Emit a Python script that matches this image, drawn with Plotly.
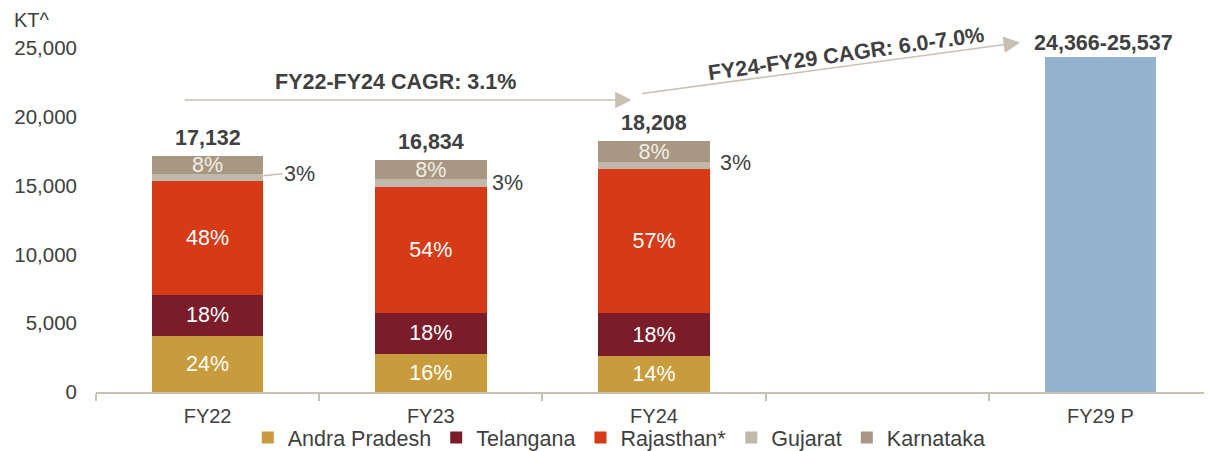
import plotly.graph_objects as go

# ---------------- data ----------------
categories = ["FY22", "FY23", "FY24"]
andra = [4100, 2740, 2620]
telangana = [2980, 3030, 3100]
rajasthan = [8220, 9160, 10470]
gujarat = [540, 530, 510]
karnataka = [1292, 1374, 1508]

andra_pct = ["24%", "16%", "14%"]
telangana_pct = ["18%", "18%", "18%"]
rajasthan_pct = ["48%", "54%", "57%"]
gujarat_pct = ["3%", "3%", "3%"]
karnataka_pct = ["8%", "8%", "8%"]

totals_label = ["17,132", "16,834", "18,208"]

proj_category = "FY29 P"
proj_value = 24366
proj_label = "24,366-25,537"

axis_labels = ["FY22", "FY23", "FY24", "", "FY29 P"]
cagr1_text = "FY22-FY24 CAGR: 3.1%"
cagr2_text = "FY24-FY29 CAGR: 6.0-7.0%"
unit_text = "KT^"

# ---------------- styling ----------------
FONT = "Liberation Sans, Arial, sans-serif"
TXT = "#404040"
AXIS = "#C8C0B0"
ARROW = "#C9C0B2"
LBL = 21.5
colors = {
    "Andra Pradesh": "#C89B3C",
    "Telangana": "#7A1C2A",
    "Rajasthan*": "#D63A16",
    "Gujarat": "#C0B8AA",
    "Karnataka": "#A89782",
}
PROJ_COLOR = "#94B2CE"

xpos = [axis_labels.index(c) for c in categories]
proj_x = axis_labels.index(proj_category)
BW = 0.5

fig = go.Figure()

series = [
    ("Andra Pradesh", andra, andra_pct, "white"),
    ("Telangana", telangana, telangana_pct, "white"),
    ("Rajasthan*", rajasthan, rajasthan_pct, "white"),
    ("Gujarat", gujarat, None, "white"),
    ("Karnataka", karnataka, karnataka_pct, "#F3EEE6"),
]
for name, vals, pct, tcol in series:
    fig.add_trace(go.Bar(
        x=xpos, y=vals, name=name, width=BW,
        marker=dict(color=colors[name], line=dict(width=0)),
        text=pct if pct else None,
        textposition="inside" if pct else "none",
        insidetextanchor="middle",
        textangle=0,
        textfont=dict(color=tcol, size=LBL, family=FONT),
        hoverinfo="skip",
    ))

fig.add_trace(go.Bar(
    x=[proj_x], y=[proj_value], width=BW, showlegend=False,
    marker=dict(color=PROJ_COLOR, line=dict(width=0)), hoverinfo="skip",
))

annotations = []
totals = [a + b + c + d + e for a, b, c, d, e in zip(andra, telangana, rajasthan, gujarat, karnataka)]
for x, t, lab in zip(xpos, totals, totals_label):
    annotations.append(dict(x=x, y=t, text=f"<b>{lab}</b>", showarrow=False,
                            yanchor="bottom", yshift=4,
                            font=dict(size=LBL, color=TXT, family=FONT)))
annotations.append(dict(x=proj_x, y=proj_value, text=f"<b>{proj_label}</b>", showarrow=False,
                        yanchor="bottom", yshift=0, xshift=3,
                        font=dict(size=LBL, color=TXT, family=FONT)))

# Gujarat outside labels
for i, (x, lab) in enumerate(zip(xpos, gujarat_pct)):
    mid = andra[i] + telangana[i] + rajasthan[i] + gujarat[i] / 2
    if i == 0:
        annotations.append(dict(x=x + BW / 2, y=mid, text=lab, showarrow=True,
                                arrowhead=0, arrowwidth=1.5, arrowcolor=AXIS,
                                ax=19, ay=-2, xanchor="left", yshift=2,
                                font=dict(size=LBL, color=TXT, family=FONT)))
    else:
        annotations.append(dict(x=x + BW / 2, y=mid, text=lab, showarrow=False,
                                xanchor="left", xshift=3 if i == 1 else 8,
                                yshift=0 if i == 1 else 3,
                                font=dict(size=LBL, color=TXT, family=FONT)))

# CAGR arrows
annotations.append(dict(x=1.90, y=21230, ax=-0.11, ay=21230, axref="x", ayref="y",
                        xref="x", yref="y", text="", showarrow=True,
                        arrowhead=2, arrowsize=2.2, arrowwidth=1.5, arrowcolor=ARROW))
annotations.append(dict(x=0.844, y=22500, text=f"<b>{cagr1_text}</b>", showarrow=False,
                        font=dict(size=LBL, color=TXT, family=FONT)))
annotations.append(dict(x=3.64, y=25400, ax=1.94, ay=21670, axref="x", ayref="y",
                        xref="x", yref="y", text="", showarrow=True,
                        arrowhead=2, arrowsize=2.2, arrowwidth=1.5, arrowcolor=ARROW))
annotations.append(dict(x=2.86, y=24580, text=f"<b>{cagr2_text}</b>", showarrow=False,
                        textangle=-8,
                        font=dict(size=LBL, color=TXT, family=FONT)))
annotations.append(dict(x=-0.0755, y=1.081, xref="paper", yref="paper", text=unit_text,
                        showarrow=False, xanchor="left", yanchor="middle",
                        font=dict(size=20, color=TXT, family=FONT)))

# page body has an 8px default margin, so the figure is sized to fit the window
fig.update_layout(
    width=1204, height=443,
    margin=dict(l=88, r=0, t=40, b=59, autoexpand=False),
    paper_bgcolor="white", plot_bgcolor="white",
    barmode="stack",
    font=dict(family=FONT, color=TXT, size=20),
    showlegend=True,
    uniformtext=dict(minsize=LBL, mode="show"),
    legend=dict(orientation="h", x=0.136, xanchor="left", y=-0.132, yanchor="middle",
                font=dict(size=LBL, color=TXT, family=FONT), itemwidth=30,
                traceorder="normal", bgcolor="rgba(0,0,0,0)"),
    annotations=annotations,
)
fig.update_xaxes(
    range=[-0.5, 4.5], tickmode="array", tickvals=[0, 1, 2, 4],
    ticktext=[axis_labels[i] for i in [0, 1, 2, 4]],
    ticks="", showgrid=False, zeroline=False, automargin=False,
    showline=True, linecolor=AXIS, linewidth=1.5,
    tickfont=dict(size=20, color=TXT, family=FONT), ticklabelstandoff=5,
    minor=dict(tickmode="array", tickvals=[-0.5, 0.5, 1.5, 2.5, 3.5, 4.5],
               ticks="outside", ticklen=7, tickcolor=AXIS, tickwidth=1.5, showgrid=False),
)
fig.update_yaxes(
    range=[0, 25000], tickvals=[0, 5000, 10000, 15000, 20000, 25000],
    tickformat=",", showgrid=False, zeroline=False, showline=False, ticks="",
    automargin=False,
    tickfont=dict(size=20.5, color=TXT, family=FONT), ticklabelstandoff=18,
)

fig.write_html("out.html")
